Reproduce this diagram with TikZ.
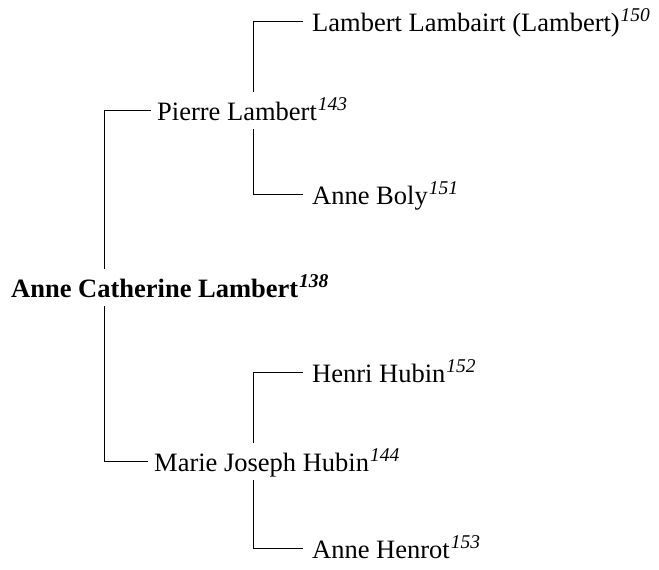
\documentclass[tikz,border=0pt]{standalone}
\usepackage{fontspec}
\setmainfont{Liberation Serif}
\newcommand{\idx}[1]{\kern1pt\textsuperscript{\fontsize{19.5}{20}\selectfont\itshape #1}}
\begin{document}
\begin{tikzpicture}[x=1pt,y=-1pt,
	person/.style={anchor=base west, inner xsep=0pt, inner ysep=8pt, text height=20pt, text depth=1pt, font=\fontsize{26.5}{30}\selectfont},
	link/.style={line width=0.9pt}]
		\useasboundingbox (0,0) rectangle (659,570);
		\coordinate (C1) at (104,0);
		\coordinate (C2) at (253,0);
		
		\node[person, font=\fontsize{26.5}{30}\selectfont\bfseries] (A) at (11,297) {Anne Catherine Lambert\idx{138}};
		\node[person] (P) at (157,120) {Pierre Lambert\idx{143}};
		\node[person] (M) at (154,471) {Marie Joseph Hubin\idx{144}};
		\node[person] (LL) at (312,31) {Lambert Lambairt (Lambert)\idx{150}};
		\node[person] (AB) at (312,204) {Anne Boly\idx{151}};
		\node[person] (HH) at (312,382) {Henri Hubin\idx{152}};
		\node[person] (AH) at (312,558) {Anne Henrot\idx{153}};
		
		\draw[link] ([xshift=-6pt]P.west) -| (A.north -| C1);
		\draw[link] ([xshift=-6pt]M.west) -| (A.south -| C1);
		\draw[link] ([xshift=-9pt]LL.west) -| (P.north -| C2);
		\draw[link] ([xshift=-9pt]AB.west) -| (P.south -| C2);
		\draw[link] ([xshift=-9pt]HH.west) -| (M.north -| C2);
		\draw[link] ([xshift=-9pt]AH.west) -| (M.south -| C2);
\end{tikzpicture}
\end{document}
